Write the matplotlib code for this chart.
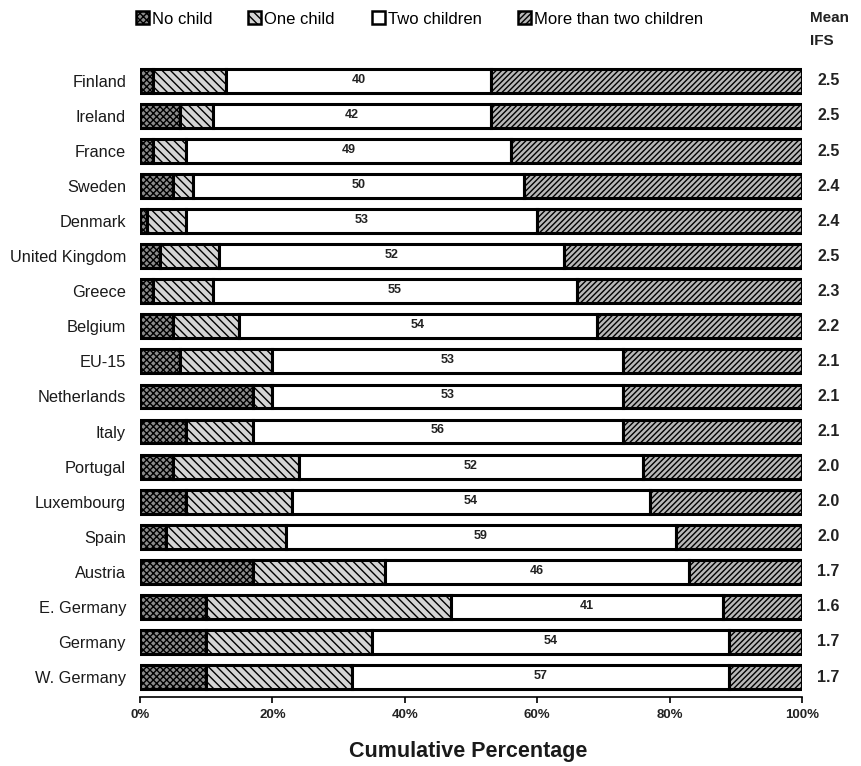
import matplotlib
matplotlib.use("Agg")
import matplotlib.pyplot as plt
from matplotlib.patches import Patch
import numpy as np

plt.rcParams['font.family'] = ['Liberation Sans', 'DejaVu Sans']
plt.rcParams['hatch.linewidth'] = 1.0

countries = ["Finland", "Ireland", "France", "Sweden", "Denmark", "United Kingdom",
             "Greece", "Belgium", "EU-15", "Netherlands", "Italy", "Portugal",
             "Luxembourg", "Spain", "Austria", "E. Germany", "Germany", "W. Germany"]
no_child = [2, 6, 2, 5, 1, 3, 2, 5, 6, 17, 7, 5, 7, 4, 17, 10, 10, 10]
one_child = [11, 5, 5, 3, 6, 9, 9, 10, 14, 3, 10, 19, 16, 18, 20, 37, 25, 22]
two_children = [40, 42, 49, 50, 53, 52, 55, 54, 53, 53, 56, 52, 54, 59, 46, 41, 54, 57]
more_than_two = [47, 47, 44, 42, 40, 36, 34, 31, 27, 27, 27, 24, 23, 19, 17, 12, 11, 11]
mean_ifs = ["2.5", "2.5", "2.5", "2.4", "2.4", "2.5", "2.3", "2.2", "2.1", "2.1",
            "2.1", "2.0", "2.0", "2.0", "1.7", "1.6", "1.7", "1.7"]
legend_labels = ["No child", "One child", "Two children", "More than two children"]
xticks = [0, 20, 40, 60, 80, 100]
xtick_labels = ["0%", "20%", "40%", "60%", "80%", "100%"]

W, H = 861, 766
fig = plt.figure(figsize=(W / 100, H / 100), dpi=100)
ax = fig.add_axes([140 / W, 1 - 697 / H, (802 - 140) / W, (697 - 63) / H])

series = [no_child, one_child, two_children, more_than_two]
faces = ["#8c8c8c", "#d4d4d4", "white", "#b8b8b8"]
hatches = ["xxxxx", "\\\\\\\\", "", "//////"]

y = np.arange(len(countries))
left = np.zeros(len(countries))
containers = []
for vals, fc, h, lab in zip(series, faces, hatches, legend_labels):
    vals = np.array(vals, dtype=float)
    c = ax.barh(y, vals, left=left, height=0.68, color=fc, hatch=h,
                edgecolor="black", linewidth=2.2, label=lab)
    containers.append(c)
    left = left + vals

# labels in "two children" segment
start2 = np.array(no_child) + np.array(one_child)
for i, v in enumerate(two_children):
    ax.text(start2[i] + v / 2, y[i] - 0.03, str(v), ha="center", va="center",
            fontsize=9, fontweight="bold", color="#222222")

# Mean IFS column
for i, m in enumerate(mean_ifs):
    ax.text(102.3, y[i], m, ha="left", va="center", fontsize=11.5, fontweight="bold",
            color="#222222")
fig.text(810 / W, 1 - 18 / H, "Mean", ha="left", va="center", fontsize=11,
         fontweight="bold", color="#222222")
fig.text(810 / W, 1 - 41 / H, "IFS", ha="left", va="center", fontsize=11,
         fontweight="bold", color="#222222")

ax.set_xlim(0, 100)
ax.set_ylim(len(countries) - 1 + 0.57, -0.51)
ax.set_yticks(y)
ax.set_yticklabels(countries, fontsize=11.8, color="#1a1a1a")
ax.tick_params(axis="y", length=0, pad=10)
ax.set_xticks(xticks)
ax.set_xticklabels(xtick_labels, fontsize=9.5, fontweight="bold", color="#222222")
ax.tick_params(axis="x", direction="out", length=4, width=1.2, pad=5)
for s in ["top", "right", "left"]:
    ax.spines[s].set_visible(False)
ax.spines["bottom"].set_linewidth(1.2)
fig.text(468 / W, 1 - 752 / H, "Cumulative Percentage", ha="center", va="center",
         fontsize=15.5, fontweight="bold", color="#1a1a1a")

# legend items placed individually
legend_x = [136, 248, 372, 518]
for cont, lab, lx in zip(containers, legend_labels, legend_x):
    p = cont.patches[0]
    handle = Patch(facecolor=p.get_facecolor(), hatch=p.get_hatch(), edgecolor="black",
                   linewidth=1.8, label=lab)
    fig.legend(handles=[handle], loc="center left", bbox_to_anchor=(lx / W, 1 - 19 / H),
               frameon=False, handlelength=0.8, handleheight=0.8, handletextpad=0.15,
               borderpad=0, borderaxespad=0, prop={"size": 12})

fig.savefig("out.png", dpi=100)
